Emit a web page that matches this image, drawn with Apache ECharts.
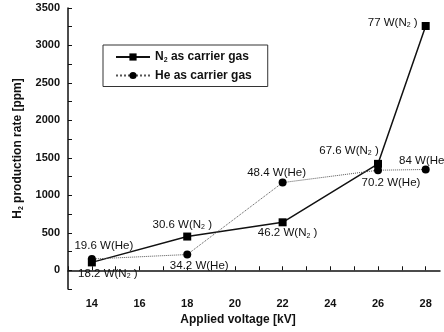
<!DOCTYPE html>
<html>
<head>
<meta charset="utf-8">
<script src="https://cdn.jsdelivr.net/npm/echarts@6/dist/echarts.min.js"></script>
<style>
  html, body { margin: 0; padding: 0; background: #fff; }
  #chart { width: 444px; height: 332px; }
</style>
</head>
<body>
<div id="chart"></div>
<script>
// data
var voltage = [14, 18, 22, 26, 28];
var n2Rate = [105, 450, 640, 1420, 3260];
var heRate = [150, 210, 1170, 1335, 1345];
var n2Power = ['18.2', '30.6', '46.2', '67.6', '77'];
var hePower = ['19.6', '34.2', '48.4', '70.2', '84'];

// label placement around each point
var n2Offsets = [[16, 11], [-5, -12], [5, 11], [-29, -13], [-33, -3]];
var heOffsets = [[12, -13], [12, 11], [-6, -10], [13, 13], [-2, -9]];

var font = 'Liberation Sans, Arial, sans-serif';
var rich = {
  a: { fontFamily: font, fontSize: 11.5, color: '#111' },
  s: { fontFamily: font, fontSize: 7, color: '#111', padding: [5, 0, 0, 0] }
};

function pts(vals) {
  return voltage.map(function (v, i) { return [v, vals[i]]; });
}

var n2Data = pts(n2Rate).map(function (p, i) {
  return {
    value: p,
    label: {
      show: true, position: 'inside', offset: n2Offsets[i], rich: rich,
      formatter: '{a|' + n2Power[i] + ' W(N}{s|2}{a| )}'
    }
  };
});
var heData = pts(heRate).map(function (p, i) {
  return {
    value: p,
    label: {
      show: true, position: 'inside', offset: heOffsets[i], rich: rich,
      formatter: '{a|' + hePower[i] + ' W(He)}'
    }
  };
});

var chart = echarts.init(document.getElementById('chart'));
chart.setOption({
  animation: false,
  backgroundColor: '#fff',
  grid: { left: 68, right: 4, top: 8, bottom: 43 },
  legend: {
    orient: 'vertical',
    left: 103, top: 45,
    padding: [6, 16, 5, 12],
    itemGap: 6,
    itemWidth: 34, itemHeight: 9,
    borderColor: '#333', borderWidth: 1,
    data: ['N2', 'He'],
    formatter: function (name) {
      return name === 'N2' ? '{b|N}{s|2}{b| as carrier gas}' : '{b|He as carrier gas}';
    },
    textStyle: {
      rich: {
        b: { fontFamily: font, fontSize: 12, fontWeight: 'bold', color: '#111' },
        s: { fontFamily: font, fontSize: 7, fontWeight: 'bold', color: '#111', padding: [6, 0, 0, 0] }
      }
    }
  },
  xAxis: {
    type: 'value',
    min: 13, max: 28.6, interval: 1,
    name: 'Applied voltage [kV]',
    nameLocation: 'middle', nameGap: 22,
    nameTextStyle: { fontFamily: font, fontSize: 12, fontWeight: 'bold', color: '#111', padding: [0, 32, 0, 0] },
    axisLine: { lineStyle: { color: '#111', width: 1.5 } },
    axisTick: { inside: true, length: 4, lineStyle: { color: '#111' } },
    axisLabel: {
      fontFamily: font, fontSize: 11, fontWeight: 'bold', color: '#111', margin: 9, showMaxLabel: false,
      formatter: function (v) { return v % 2 === 0 ? v : ''; }
    },
    splitLine: { show: false }
  },
  yAxis: {
    type: 'value',
    min: -250, max: 3500, interval: 250,
    name: '{b|H}{s|2}{b| production rate [ppm]}',
    nameLocation: 'middle', nameGap: 38,
    nameTextStyle: {
      rich: {
        b: { fontFamily: font, fontSize: 12, fontWeight: 'bold', color: '#111' },
        s: { fontFamily: font, fontSize: 7, fontWeight: 'bold', color: '#111', padding: [6, 0, 0, 0] }
      }
    },
    axisLine: { show: true, lineStyle: { color: '#111', width: 1.5 } },
    axisTick: { inside: true, length: 4, lineStyle: { color: '#111' } },
    axisLabel: {
      fontFamily: font, fontSize: 11, fontWeight: 'bold', color: '#111', margin: 8,
      formatter: function (v) { return v % 500 === 0 ? v : ''; }
    },
    splitLine: { show: false }
  },
  series: [
    {
      name: 'N2', type: 'line',
      symbol: 'rect', symbolSize: 8,
      itemStyle: { color: '#000' },
      lineStyle: { color: '#111', width: 1.5 },
      data: n2Data
    },
    {
      name: 'He', type: 'line',
      symbol: 'circle', symbolSize: 8,
      itemStyle: { color: '#000' },
      lineStyle: { color: '#555', width: 1, type: 'dotted' },
      data: heData
    }
  ]
});
</script>
</body>
</html>
